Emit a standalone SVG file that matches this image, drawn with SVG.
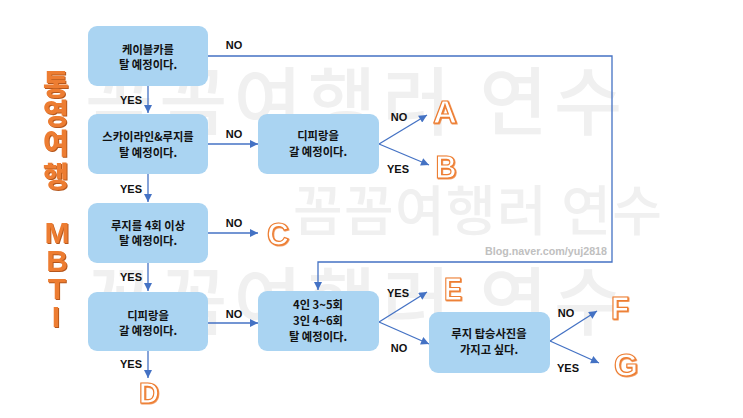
<svg xmlns="http://www.w3.org/2000/svg" width="743" height="418" viewBox="0 0 743 418">
<defs>
<style>
.wm{font-family:"Noto Sans CJK KR","Noto Sans",sans-serif;font-weight:500;fill:#f0f0f0}
.node rect{fill:#aad4f2}
.nt{font-family:"Noto Sans CJK KR","Noto Sans",sans-serif;font-size:11.3px;font-weight:700;fill:#111;text-anchor:middle}
.lb{font-family:"Liberation Sans",Arial,sans-serif;font-size:11px;font-weight:700;fill:#111;text-anchor:middle}
.res{font-family:"Liberation Sans",Arial,sans-serif;font-size:32px;font-weight:700;fill:#fff;stroke:#ed7d31;stroke-width:1.2;text-anchor:middle;filter:url(#sh)}
.ttl{font-family:"Noto Sans CJK KR","Liberation Sans",sans-serif;font-size:28px;font-weight:900;fill:#ed7d31;text-anchor:middle;filter:url(#sh2)}
.conn{stroke:#4472c4;stroke-width:1.3;fill:none}
</style>
<marker id="ah" viewBox="0 0 10 10" refX="10" refY="5" markerWidth="9" markerHeight="8" markerUnits="userSpaceOnUse" orient="auto">
<path d="M0,0 L10,5 L0,10 z" fill="#4472c4"/>
</marker>
<filter id="sh" x="-20%" y="-20%" width="140%" height="140%">
<feDropShadow dx="0.8" dy="0.8" stdDeviation="0" flood-color="#ed7d31"/>
</filter>
<filter id="sh2" x="-20%" y="-20%" width="140%" height="140%">
<feDropShadow dx="1" dy="1" stdDeviation="0.3" flood-color="#b5561a"/>
</filter>
</defs>
<rect width="743" height="418" fill="#fff"/>
<g id="watermark">
<text class="wm" x="85" y="129" font-size="74" textLength="537" lengthAdjust="spacing">꼼꼼여행러 연수</text>
<text class="wm" x="293" y="231" font-size="54" textLength="369" lengthAdjust="spacing">꼼꼼여행러 연수</text>
<text class="wm" x="85" y="329" font-size="74" textLength="537" lengthAdjust="spacing">꼼꼼여행러 연수</text>
<text x="607" y="255" font-family="Liberation Sans,Arial,sans-serif" font-size="11" font-weight="700" fill="#c0c0c0" text-anchor="end" textLength="122" lengthAdjust="spacingAndGlyphs">Blog.naver.com/yuj2818</text>
</g>
<g id="title">
<text class="ttl" x="56" y="95">통</text>
<text class="ttl" x="56" y="124">영</text>
<text class="ttl" x="56" y="154">여</text>
<text class="ttl" x="56" y="187">행</text>
<text class="ttl" x="57" y="243" style="font-family:'Liberation Sans',Arial,sans-serif;font-size:30px">M</text>
<text class="ttl" x="57" y="271" style="font-family:'Liberation Sans',Arial,sans-serif;font-size:30px">B</text>
<text class="ttl" x="57" y="299" style="font-family:'Liberation Sans',Arial,sans-serif;font-size:30px">T</text>
<text class="ttl" x="56" y="327" style="font-family:'Liberation Sans',Arial,sans-serif;font-size:30px">I</text>
</g>
<g id="connectors">
<path class="conn" d="M208,56 H612 V262 H318 V290" marker-end="url(#ah)"/>
<line class="conn" x1="148" y1="86" x2="148" y2="113" marker-end="url(#ah)"/>
<line class="conn" x1="208" y1="144" x2="258" y2="144" marker-end="url(#ah)"/>
<line class="conn" x1="379" y1="144" x2="427" y2="115" marker-end="url(#ah)"/>
<line class="conn" x1="379" y1="144" x2="429" y2="165" marker-end="url(#ah)"/>
<line class="conn" x1="148" y1="174" x2="148" y2="202" marker-end="url(#ah)"/>
<line class="conn" x1="208" y1="233" x2="258" y2="233" marker-end="url(#ah)"/>
<line class="conn" x1="148" y1="263" x2="148" y2="291" marker-end="url(#ah)"/>
<line class="conn" x1="208" y1="323" x2="258" y2="323" marker-end="url(#ah)"/>
<line class="conn" x1="148" y1="351" x2="148" y2="378" marker-end="url(#ah)"/>
<line class="conn" x1="379" y1="322" x2="427" y2="292" marker-end="url(#ah)"/>
<line class="conn" x1="379" y1="322" x2="429" y2="344" marker-end="url(#ah)"/>
<line class="conn" x1="550" y1="341" x2="597" y2="311" marker-end="url(#ah)"/>
<line class="conn" x1="550" y1="341" x2="599" y2="363" marker-end="url(#ah)"/>
<text class="lb" x="234" y="49">NO</text>
<text class="lb" x="131" y="104">YES</text>
<text class="lb" x="234" y="138">NO</text>
<text class="lb" x="131" y="193">YES</text>
<text class="lb" x="399" y="121">NO</text>
<text class="lb" x="398" y="173">YES</text>
<text class="lb" x="234" y="227">NO</text>
<text class="lb" x="131" y="281">YES</text>
<text class="lb" x="234" y="318">NO</text>
<text class="lb" x="131" y="368">YES</text>
<text class="lb" x="398" y="297">YES</text>
<text class="lb" x="399" y="352">NO</text>
<text class="lb" x="566" y="317">NO</text>
<text class="lb" x="568" y="372">YES</text>
</g>
<g id="n1" class="node"><rect x="88" y="26" width="120" height="60" rx="9"/><text class="nt" x="148" y="54">케이블카를</text><text class="nt" x="148" y="69">탈 예정이다.</text></g>
<g id="n2" class="node"><rect x="88" y="114" width="120" height="60" rx="9"/><text class="nt" x="148" y="141">스카이라인&amp;루지를</text><text class="nt" x="148" y="157">탈 예정이다.</text></g>
<g id="n3" class="node"><rect x="258" y="114" width="121" height="60" rx="9"/><text class="nt" x="318" y="140">디피랑을</text><text class="nt" x="318" y="156">갈 예정이다.</text></g>
<g id="n4" class="node"><rect x="88" y="203" width="120" height="60" rx="9"/><text class="nt" x="148" y="230">루지를 4회 이상</text><text class="nt" x="148" y="245">탈 예정이다.</text></g>
<g id="n5" class="node"><rect x="88" y="292" width="120" height="59" rx="9"/><text class="nt" x="148" y="320">디피랑을</text><text class="nt" x="148" y="335">갈 예정이다.</text></g>
<g id="n6" class="node"><rect x="258" y="291" width="121" height="60" rx="9"/><text class="nt" x="318" y="309">4인 3~5회</text><text class="nt" x="318" y="325">3인 4~6회</text><text class="nt" x="318" y="341">탈 예정이다.</text></g>
<g id="n7" class="node"><rect x="429" y="312" width="121" height="61" rx="9"/><text class="nt" x="489" y="338">루지 탑승사진을</text><text class="nt" x="489" y="354">가지고 싶다.</text></g>
<g id="results">
<text id="rA" class="res" x="445" y="123" textLength="24" lengthAdjust="spacingAndGlyphs">A</text>
<text id="rB" class="res" x="446" y="178" textLength="21" lengthAdjust="spacingAndGlyphs">B</text>
<text id="rC" class="res" x="278" y="245" textLength="22" lengthAdjust="spacingAndGlyphs">C</text>
<text id="rD" class="res" x="149" y="403" textLength="20" lengthAdjust="spacingAndGlyphs" style="font-size:29px">D</text>
<text id="rE" class="res" x="453" y="300" textLength="18" lengthAdjust="spacingAndGlyphs">E</text>
<text id="rF" class="res" x="620" y="319" textLength="18" lengthAdjust="spacingAndGlyphs">F</text>
<text id="rG" class="res" x="626" y="376" textLength="24" lengthAdjust="spacingAndGlyphs">G</text>
</g>
</svg>
